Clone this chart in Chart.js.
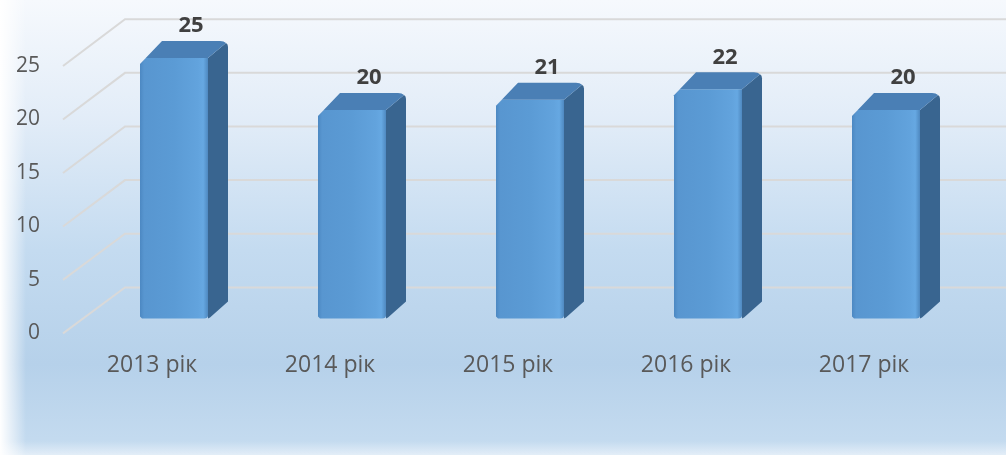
<!DOCTYPE html>
<html>
<head>
<meta charset="utf-8">
<script src="https://cdn.jsdelivr.net/npm/chart.js@4"></script>
<style>
  html, body { margin: 0; padding: 0; background: #fff; }
  #wrap { width: 1006px; height: 455px; }
</style>
</head>
<body>
<div id="wrap"><canvas id="chart" width="1006" height="455"></canvas></div>
<script>
// дані
const years = ['2013 рік', '2014 рік', '2015 рік', '2016 рік', '2017 рік'];
const counts = [25, 20, 21, 22, 20];
const yTicks = [0, 5, 10, 15, 20, 25];

// глибина 3D
const DX = 20, DY = 17;

// фон з градієнтом
const bgPlugin = {
  id: 'bg',
  beforeDraw(chart) {
    const c = chart.ctx, w = chart.width, h = chart.height;
    c.save();
    let g = c.createLinearGradient(0, 0, 0, h);
    g.addColorStop(0, '#f6f9fd');
    g.addColorStop(0.25, '#e3edf8');
    g.addColorStop(0.55, '#c4dbf0');
    g.addColorStop(0.8, '#b6d1ea');
    g.addColorStop(1, '#c6dcf0');
    c.fillStyle = g;
    c.fillRect(0, 0, w, h);
    // світлий край зліва
    let g2 = c.createLinearGradient(0, 0, 26, 0);
    g2.addColorStop(0, 'rgba(255,255,255,1)');
    g2.addColorStop(1, 'rgba(255,255,255,0)');
    c.fillStyle = g2;
    c.fillRect(0, 0, 26, h);
    // світлий край знизу
    let g3 = c.createLinearGradient(0, h - 14, 0, h);
    g3.addColorStop(0, 'rgba(255,255,255,0)');
    g3.addColorStop(1, 'rgba(255,255,255,0.5)');
    c.fillStyle = g3;
    c.fillRect(0, h - 14, w, 14);
    c.restore();
  }
};

// сітка в перспективі + підписи осі Y
const gridPlugin = {
  id: 'grid3d',
  beforeDatasetsDraw(chart) {
    const c = chart.ctx, y = chart.scales.y, area = chart.chartArea;
    const base = y.getPixelForValue(0);
    const frontX = area.left - 22, backX = area.left + 40;
    c.save();
    c.strokeStyle = '#d9d9d9';
    c.lineWidth = 2;
    c.font = '21px "Open Sans", sans-serif';
    c.fillStyle = '#595959';
    c.textAlign = 'right';
    c.textBaseline = 'middle';
    yTicks.forEach(v => {
      const px = y.getPixelForValue(v);
      const fy = base + 15 + (px - base) * 1.027;
      const by = base - 31 + (px - base) * 1.03;
      c.beginPath();
      c.moveTo(frontX, fy);
      c.lineTo(backX, by);
      c.lineTo(chart.width, by);
      c.stroke();
      c.fillText(String(v), frontX - 23, fy);
    });
    c.restore();
  }
};

// бічні грані, верх і підписи значень
const barPlugin = {
  id: 'bars3d',
  afterDatasetsDraw(chart) {
    const c = chart.ctx;
    const meta = chart.getDatasetMeta(0);
    c.save();
    meta.data.forEach((bar, i) => {
      const p = bar.getProps(['x', 'y', 'base', 'width'], true);
      const x0 = p.x - p.width / 2, x1 = p.x + p.width / 2;
      const y0 = p.y, yb = p.base;
      // передня грань
      let g = c.createLinearGradient(x0, 0, x1, 0);
      g.addColorStop(0, '#4c88c2');
      g.addColorStop(0.06, '#5896d0');
      g.addColorStop(0.5, '#5b9bd5');
      g.addColorStop(0.85, '#62a3dd');
      g.addColorStop(0.93, '#66a8e2');
      g.addColorStop(1, '#4f89c0');
      c.fillStyle = g;
      c.beginPath();
      c.moveTo(x0, y0 + 6);
      c.lineTo(x0 + 6, y0);
      c.lineTo(x1, y0);
      c.lineTo(x1, yb - 3);
      c.quadraticCurveTo(x1, yb, x1 - 4, yb);
      c.lineTo(x0 + 2, yb);
      c.lineTo(x0, yb - 2);
      c.closePath();
      c.fill();
      // бічна грань
      c.fillStyle = '#396590';
      c.beginPath();
      c.moveTo(x1, y0);
      c.lineTo(x1 + DX - 2, y0 - DY + 2);
      c.quadraticCurveTo(x1 + DX, y0 - DY + 3, x1 + DX, y0 - DY + 6);
      c.lineTo(x1 + DX, yb - DY);
      c.lineTo(x1 + 2, yb - 1);
      c.lineTo(x1, yb);
      c.closePath();
      c.fill();
      // верх
      c.fillStyle = '#4a7fb5';
      c.beginPath();
      c.moveTo(x0, y0 + 6);
      c.lineTo(x0 + 6, y0);
      c.lineTo(x1, y0);
      c.lineTo(x1 + DX - 2, y0 - DY + 2);
      c.quadraticCurveTo(x1 + DX - 4, y0 - DY, x1 + DX - 8, y0 - DY);
      c.lineTo(x0 + DX + 2, y0 - DY);
      c.closePath();
      c.fill();
      // підпис
      c.fillStyle = '#404040';
      c.font = 'bold 22px "Open Sans", sans-serif';
      c.textAlign = 'center';
      c.textBaseline = 'middle';
      c.fillText(String(counts[i]), p.x + 17, y0 - 32);
    });
    c.restore();
  }
};

new Chart(document.getElementById('chart'), {
  type: 'bar',
  data: {
    labels: years,
    datasets: [{
      data: counts,
      backgroundColor: 'rgba(0,0,0,0)',
      categoryPercentage: 1,
      barPercentage: 0.382
    }]
  },
  options: {
    responsive: false,
    animation: false,
    layout: { padding: { left: 85, right: 31, top: 58, bottom: 51 } },
    plugins: { legend: { display: false }, tooltip: { enabled: false } },
    scales: {
      x: {
        grid: { display: false },
        border: { display: false },
        ticks: {
          color: '#595959',
          font: { family: 'Open Sans', size: 23 },
          padding: 25,
          labelOffset: -22
        }
      },
      y: {
        display: false,
        min: 0,
        max: 25
      }
    }
  },
  plugins: [bgPlugin, gridPlugin, barPlugin]
});
</script>
</body>
</html>
